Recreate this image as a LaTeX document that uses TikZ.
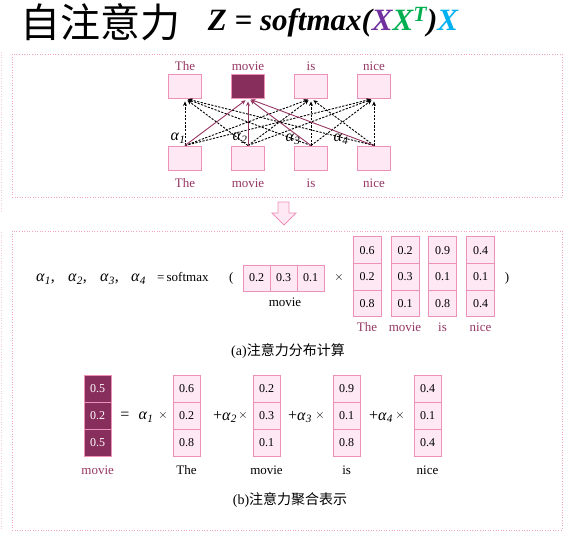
\documentclass[tikz,border=0pt]{standalone}
\usepackage{fontspec}
\setmainfont{Liberation Serif}
\newfontfamily\cjk{Noto Sans CJK SC}
\usetikzlibrary{arrows.meta}
\definecolor{pinkB}{RGB}{238,145,185}
\definecolor{pinkL}{RGB}{253,232,243}
\definecolor{maroonD}{RGB}{136,46,92}
\definecolor{mauve}{RGB}{150,55,100}
\definecolor{frameC}{RGB}{243,165,198}
\definecolor{purpX}{RGB}{112,48,160}
\definecolor{grnX}{RGB}{0,176,80}
\definecolor{cynX}{RGB}{0,176,240}
\newcommand\myal[1]{\textit{α}\textsubscript{\textit{#1}}}
\begin{document}
\begin{tikzpicture}[x=1pt,y=-1pt,
 cellbox/.style={draw=pinkB,fill=pinkL,line width=0.9pt,inner sep=0pt,minimum width=27pt,minimum height=27pt,font=\fontsize{12}{12}\selectfont},
 darkcell/.style={cellbox,fill=maroonD,text=white},
 wordbox/.style={draw=pinkB,fill=pinkL,line width=0.9pt,minimum width=33pt,minimum height=24pt,inner sep=0pt},
 darkword/.style={wordbox,fill=maroonD},
 mlabel/.style={text=mauve,font=\fontsize{13}{13}\selectfont,inner sep=0pt},
 blabel/.style={text=black,font=\fontsize{13}{13}\selectfont,inner sep=0pt},
 optext/.style={text=black,font=\fontsize{13}{13}\selectfont,inner sep=0pt},
 altext/.style={text=black,font=\fontsize{16}{16}\selectfont,inner sep=0pt},
 frameline/.style={draw=frameC,line width=0.8pt,dash pattern=on 1pt off 1.6pt},
 dotarrow/.style={draw=black,line width=0.9pt,dash pattern=on 2.2pt off 1.4pt,-{Stealth[length=4.5pt,width=4pt]},shorten >=3pt},
 solidarrow/.style={draw=mauve,line width=0.9pt,-{Stealth[length=4.5pt,width=4pt]},shorten >=3pt},
 capt/.style={text=black,font=\fontsize{14}{14}\selectfont,inner sep=0pt}
]
\fill[white] (0,0) rectangle (565,534);
\useasboundingbox (0,0) rectangle (565,534);

% title
\node[inner sep=0pt,font=\cjk\fontsize{40}{40}\selectfont] (title) at (100,22) {自注意力};
\node[inner sep=0pt,font=\fontsize{31}{31}\selectfont\bfseries\itshape] (formula) at (333,22)
  {Z = softmax(\textcolor{purpX}{X}\textcolor{grnX}{X}\textsuperscript{\textcolor{grnX}{T}})\textcolor{cynX}{X}};

% frames
\draw[frameline] (12,54) rectangle (562,197);
\draw[frameline] (12,231) rectangle (562,530);
\draw[frameline,draw=frameC!60] (1,52) -- (1,213);
\draw[frameline,draw=frameC!60] (1,232) -- (1,530);

% top diagram
\foreach \n/\x/\w in {1/185/The,2/248/movie,3/311/is,4/374/nice}{
  \node[mlabel] (tl\n) at (\x,66) {\w};
  \node[mlabel] (bl\n) at (\x,183) {\w};
  \node[wordbox] (b\n) at (\x,158) {};
}
\node[wordbox] (t1) at (185,86) {};
\node[darkword] (t2) at (248,86) {};
\node[wordbox] (t3) at (311,86) {};
\node[wordbox] (t4) at (374,86) {};
\foreach \i in {1,...,4}{
  \foreach \j in {1,3,4}{
    \draw[dotarrow] (b\i.north) -- (t\j.south);
  }
  \draw[solidarrow] (b\i.north) -- (t2.south);
}
\node[altext] (a1) at (178,138) {\myal{1}};
\node[altext] (a2) at (240,138) {\myal{2}};
\node[altext] (a3) at (293,139) {\myal{3}};
\node[altext] (a4) at (341,139) {\myal{4}};

% down arrow
\draw[draw=pinkB,fill=pinkL,line width=0.8pt,line join=miter]
  (278,202) -- (289,202) -- (289,213) -- (296,213) -- (284,225) -- (272,213) -- (278,213) -- cycle;

% (a)
\node[altext,anchor=base west] (sa1) at (36,282) {\myal{1},};
\node[altext,anchor=base west] (sa2) at (68,282) {\myal{2},};
\node[altext,anchor=base west] (sa3) at (100,282) {\myal{3},};
\node[altext,anchor=base west] (sa4) at (131,282) {\myal{4}};
\node[optext,anchor=base west] (seq) at (157,282) {=\,softmax};
\node[optext,anchor=base west] (lp) at (229,282) {(};
\node[cellbox,minimum height=26pt] (r1) at (256.5,278) {0.2};
\node[cellbox,minimum height=26pt] (r2) at (283.5,278) {0.3};
\node[cellbox,minimum height=26pt] (r3) at (310.5,278) {0.1};
\node[blabel] (rl) at (285,302) {movie};
\node[optext] (mx) at (339,278) {$\times$};
\node[optext,anchor=base] (rp) at (507,282) {)};
\foreach \n/\x/\va/\vb/\vc/\w in {1/367/0.6/0.2/0.8/The,2/405/0.2/0.3/0.1/movie,3/442.5/0.9/0.1/0.8/is,4/480.5/0.4/0.1/0.4/nice}{
  \node[cellbox,minimum width=28pt,minimum height=26.7pt] (c\n a) at (\x,250.2) {\va};
  \node[cellbox,minimum width=28pt,minimum height=26.7pt] (c\n b) at (\x,276.8) {\vb};
  \node[cellbox,minimum width=28pt,minimum height=26.7pt] (c\n c) at (\x,303.5) {\vc};
  \node[mlabel] (cl\n) at (\x,327) {\w};
}
\node[capt] (capa) at (288,351) {(a)\cjk 注意力分布计算};

% (b)
\node[darkcell] (z1) at (97.7,389) {0.5};
\node[darkcell] (z2) at (97.7,416) {0.2};
\node[darkcell] (z3) at (97.7,443) {0.5};
\node[mlabel] (zl) at (97.7,470) {movie};
\foreach \n/\x/\va/\vb/\vc/\w in {1/186.5/0.6/0.2/0.8/The,2/266.5/0.2/0.3/0.1/movie,3/346.7/0.9/0.1/0.8/is,4/427.5/0.4/0.1/0.4/nice}{
  \node[cellbox] (v\n a) at (\x,389) {\va};
  \node[cellbox] (v\n b) at (\x,416) {\vb};
  \node[cellbox] (v\n c) at (\x,443) {\vc};
  \node[blabel] (vl\n) at (\x,470) {\w};
}
\node[altext] (beq) at (125,416) {=};
\node[altext] (bal1) at (146,417) {\myal{1}};
\node[optext] (bx1) at (163,416) {$\times$};
\node[altext] (bal2) at (225,417) {+\myal{2}};
\node[optext] (bx2) at (243,416) {$\times$};
\node[altext] (bal3) at (300,417) {+\myal{3}};
\node[optext] (bx3) at (320,416) {$\times$};
\node[altext] (bal4) at (381,417) {+\myal{4}};
\node[optext] (bx4) at (400,416) {$\times$};
\node[capt] (capb) at (290,500) {(b)\cjk 注意力聚合表示};
\end{tikzpicture}
\end{document}
